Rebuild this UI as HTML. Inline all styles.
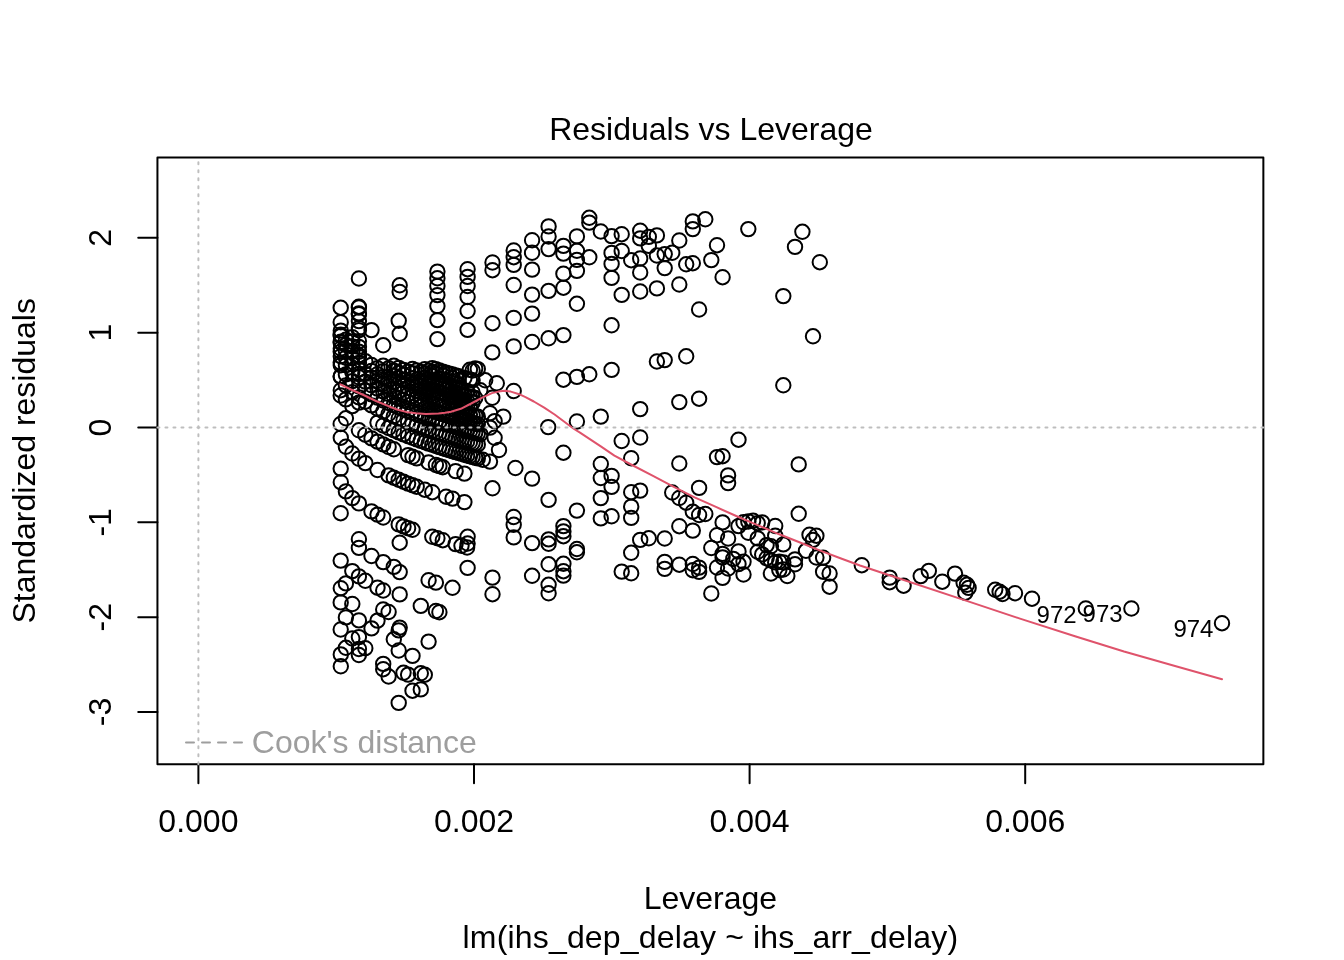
<!DOCTYPE html>
<html><head><meta charset="utf-8"><title>Residuals vs Leverage</title>
<style>
html,body{margin:0;padding:0;background:#fff;}
svg{display:block;}
text{font-family:"Liberation Sans",Arial,Helvetica,sans-serif;font-size:32px;fill:#000;}
</style></head><body>
<svg width="1344" height="960" viewBox="0 0 1344 960">
<rect width="1344" height="960" fill="#fff"/>

<g fill="none" stroke="#000" stroke-width="2">
<circle cx="340.7" cy="307.7" r="7.2"/><circle cx="340.7" cy="322.2" r="7.2"/><circle cx="340.7" cy="334.8" r="7.2"/><circle cx="340.7" cy="342.5" r="7.2"/><circle cx="340.7" cy="351.6" r="7.2"/><circle cx="340.7" cy="362.6" r="7.2"/><circle cx="340.7" cy="376.6" r="7.2"/><circle cx="340.7" cy="395.5" r="7.2"/>
<circle cx="340.7" cy="424.0" r="7.2"/><circle cx="340.7" cy="468.6" r="7.2"/><circle cx="340.7" cy="513.2" r="7.2"/><circle cx="340.7" cy="560.6" r="7.2"/><circle cx="340.7" cy="602.4" r="7.2"/><circle cx="340.7" cy="629.5" r="7.2"/><circle cx="340.8" cy="330.6" r="7.2"/><circle cx="340.8" cy="335.9" r="7.2"/>
<circle cx="340.8" cy="341.8" r="7.2"/><circle cx="340.8" cy="348.5" r="7.2"/><circle cx="340.8" cy="356.2" r="7.2"/><circle cx="340.8" cy="365.3" r="7.2"/><circle cx="340.8" cy="376.3" r="7.2"/><circle cx="340.8" cy="390.2" r="7.2"/><circle cx="340.8" cy="437.7" r="7.2"/><circle cx="340.8" cy="482.2" r="7.2"/>
<circle cx="340.8" cy="588.2" r="7.2"/><circle cx="340.8" cy="654.4" r="7.2"/><circle cx="340.8" cy="666.3" r="7.2"/><circle cx="345.9" cy="339.7" r="7.2"/><circle cx="345.9" cy="345.0" r="7.2"/><circle cx="345.9" cy="350.9" r="7.2"/><circle cx="345.9" cy="357.6" r="7.2"/><circle cx="345.9" cy="365.3" r="7.2"/>
<circle cx="345.9" cy="374.4" r="7.2"/><circle cx="345.9" cy="385.4" r="7.2"/><circle cx="345.9" cy="399.4" r="7.2"/><circle cx="345.9" cy="418.3" r="7.2"/><circle cx="345.9" cy="446.8" r="7.2"/><circle cx="345.9" cy="491.4" r="7.2"/><circle cx="345.9" cy="583.4" r="7.2"/><circle cx="345.9" cy="617.4" r="7.2"/>
<circle cx="345.9" cy="647.8" r="7.2"/><circle cx="352.3" cy="337.2" r="7.2"/><circle cx="352.3" cy="341.6" r="7.2"/><circle cx="352.3" cy="346.4" r="7.2"/><circle cx="352.3" cy="351.7" r="7.2"/><circle cx="352.3" cy="357.6" r="7.2"/><circle cx="352.3" cy="364.3" r="7.2"/><circle cx="352.3" cy="372.0" r="7.2"/>
<circle cx="352.3" cy="381.1" r="7.2"/><circle cx="352.3" cy="392.1" r="7.2"/><circle cx="352.3" cy="406.1" r="7.2"/><circle cx="352.3" cy="453.5" r="7.2"/><circle cx="352.3" cy="498.1" r="7.2"/><circle cx="352.3" cy="571.1" r="7.2"/><circle cx="352.3" cy="604.0" r="7.2"/><circle cx="352.3" cy="638.5" r="7.2"/>
<circle cx="358.9" cy="307.5" r="7.2"/><circle cx="358.9" cy="314.2" r="7.2"/><circle cx="358.9" cy="328.0" r="7.2"/><circle cx="358.9" cy="346.9" r="7.2"/><circle cx="358.9" cy="351.7" r="7.2"/><circle cx="358.9" cy="357.0" r="7.2"/><circle cx="358.9" cy="362.9" r="7.2"/><circle cx="358.9" cy="369.6" r="7.2"/>
<circle cx="358.9" cy="377.3" r="7.2"/><circle cx="358.9" cy="386.4" r="7.2"/><circle cx="358.9" cy="397.4" r="7.2"/><circle cx="358.9" cy="430.3" r="7.2"/><circle cx="358.9" cy="458.8" r="7.2"/><circle cx="358.9" cy="503.4" r="7.2"/><circle cx="358.9" cy="547.9" r="7.2"/><circle cx="358.9" cy="576.4" r="7.2"/>
<circle cx="358.9" cy="620.4" r="7.2"/><circle cx="358.9" cy="637.1" r="7.2"/><circle cx="358.9" cy="655.0" r="7.2"/><circle cx="358.9" cy="278.5" r="7.2"/><circle cx="358.9" cy="306.7" r="7.2"/><circle cx="358.9" cy="313.4" r="7.2"/><circle cx="358.9" cy="321.1" r="7.2"/><circle cx="358.9" cy="330.2" r="7.2"/>
<circle cx="358.9" cy="341.2" r="7.2"/><circle cx="358.9" cy="355.2" r="7.2"/><circle cx="358.9" cy="374.1" r="7.2"/><circle cx="358.9" cy="402.6" r="7.2"/><circle cx="358.9" cy="539.2" r="7.2"/><circle cx="358.9" cy="649.0" r="7.2"/><circle cx="365.3" cy="361.3" r="7.2"/><circle cx="365.3" cy="373.9" r="7.2"/>
<circle cx="365.3" cy="381.6" r="7.2"/><circle cx="365.3" cy="390.7" r="7.2"/><circle cx="365.3" cy="401.7" r="7.2"/><circle cx="365.3" cy="434.7" r="7.2"/><circle cx="365.3" cy="463.1" r="7.2"/><circle cx="365.3" cy="580.8" r="7.2"/><circle cx="365.3" cy="648.2" r="7.2"/><circle cx="371.5" cy="330.1" r="7.2"/>
<circle cx="371.5" cy="365.0" r="7.2"/><circle cx="371.5" cy="370.9" r="7.2"/><circle cx="371.5" cy="377.6" r="7.2"/><circle cx="371.5" cy="385.3" r="7.2"/><circle cx="371.5" cy="394.4" r="7.2"/><circle cx="371.5" cy="405.4" r="7.2"/><circle cx="371.5" cy="438.4" r="7.2"/><circle cx="371.5" cy="511.4" r="7.2"/>
<circle cx="371.5" cy="556.0" r="7.2"/><circle cx="371.5" cy="628.4" r="7.2"/><circle cx="377.5" cy="368.2" r="7.2"/><circle cx="377.5" cy="374.2" r="7.2"/><circle cx="377.5" cy="380.9" r="7.2"/><circle cx="377.5" cy="388.6" r="7.2"/><circle cx="377.5" cy="397.6" r="7.2"/><circle cx="377.5" cy="408.7" r="7.2"/>
<circle cx="377.5" cy="422.6" r="7.2"/><circle cx="377.5" cy="441.6" r="7.2"/><circle cx="377.5" cy="470.0" r="7.2"/><circle cx="377.5" cy="514.6" r="7.2"/><circle cx="377.5" cy="587.7" r="7.2"/><circle cx="377.5" cy="620.6" r="7.2"/><circle cx="383.2" cy="345.3" r="7.2"/><circle cx="383.2" cy="365.8" r="7.2"/>
<circle cx="383.2" cy="371.1" r="7.2"/><circle cx="383.2" cy="377.0" r="7.2"/><circle cx="383.2" cy="383.7" r="7.2"/><circle cx="383.2" cy="391.4" r="7.2"/><circle cx="383.2" cy="400.5" r="7.2"/><circle cx="383.2" cy="411.5" r="7.2"/><circle cx="383.2" cy="425.5" r="7.2"/><circle cx="383.2" cy="444.4" r="7.2"/>
<circle cx="383.2" cy="517.5" r="7.2"/><circle cx="383.2" cy="562.1" r="7.2"/><circle cx="383.2" cy="590.5" r="7.2"/><circle cx="383.2" cy="609.5" r="7.2"/><circle cx="383.2" cy="663.9" r="7.2"/><circle cx="383.2" cy="669.2" r="7.2"/><circle cx="388.6" cy="368.3" r="7.2"/><circle cx="388.6" cy="379.5" r="7.2"/>
<circle cx="388.6" cy="386.2" r="7.2"/><circle cx="388.6" cy="394.0" r="7.2"/><circle cx="388.6" cy="403.0" r="7.2"/><circle cx="388.6" cy="414.0" r="7.2"/><circle cx="388.6" cy="428.0" r="7.2"/><circle cx="388.6" cy="447.0" r="7.2"/><circle cx="388.6" cy="475.4" r="7.2"/><circle cx="388.6" cy="612.0" r="7.2"/>
<circle cx="388.6" cy="676.5" r="7.2"/><circle cx="393.8" cy="365.8" r="7.2"/><circle cx="393.8" cy="370.6" r="7.2"/><circle cx="393.8" cy="375.9" r="7.2"/><circle cx="393.8" cy="381.9" r="7.2"/><circle cx="393.8" cy="388.6" r="7.2"/><circle cx="393.8" cy="396.3" r="7.2"/><circle cx="393.8" cy="405.3" r="7.2"/>
<circle cx="393.8" cy="416.3" r="7.2"/><circle cx="393.8" cy="430.3" r="7.2"/><circle cx="393.8" cy="449.3" r="7.2"/><circle cx="393.8" cy="477.7" r="7.2"/><circle cx="393.8" cy="566.9" r="7.2"/><circle cx="393.8" cy="639.3" r="7.2"/><circle cx="398.7" cy="320.8" r="7.2"/><circle cx="398.7" cy="367.9" r="7.2"/>
<circle cx="398.7" cy="372.7" r="7.2"/><circle cx="398.7" cy="378.0" r="7.2"/><circle cx="398.7" cy="384.0" r="7.2"/><circle cx="398.7" cy="390.7" r="7.2"/><circle cx="398.7" cy="398.4" r="7.2"/><circle cx="398.7" cy="407.4" r="7.2"/><circle cx="398.7" cy="418.5" r="7.2"/><circle cx="398.7" cy="432.4" r="7.2"/>
<circle cx="398.7" cy="479.8" r="7.2"/><circle cx="398.7" cy="524.4" r="7.2"/><circle cx="398.7" cy="630.4" r="7.2"/><circle cx="398.7" cy="650.5" r="7.2"/><circle cx="398.7" cy="702.9" r="7.2"/><circle cx="399.7" cy="285.3" r="7.2"/><circle cx="399.7" cy="292.0" r="7.2"/><circle cx="399.7" cy="333.8" r="7.2"/>
<circle cx="399.7" cy="542.7" r="7.2"/><circle cx="399.7" cy="572.1" r="7.2"/><circle cx="399.7" cy="594.4" r="7.2"/><circle cx="399.7" cy="627.6" r="7.2"/><circle cx="403.5" cy="369.9" r="7.2"/><circle cx="403.5" cy="374.7" r="7.2"/><circle cx="403.5" cy="380.0" r="7.2"/><circle cx="403.5" cy="385.9" r="7.2"/>
<circle cx="403.5" cy="392.6" r="7.2"/><circle cx="403.5" cy="400.3" r="7.2"/><circle cx="403.5" cy="409.4" r="7.2"/><circle cx="403.5" cy="420.4" r="7.2"/><circle cx="403.5" cy="434.4" r="7.2"/><circle cx="403.5" cy="481.8" r="7.2"/><circle cx="403.5" cy="526.4" r="7.2"/><circle cx="403.5" cy="672.8" r="7.2"/>
<circle cx="408.1" cy="371.7" r="7.2"/><circle cx="408.1" cy="381.8" r="7.2"/><circle cx="408.1" cy="387.7" r="7.2"/><circle cx="408.1" cy="394.4" r="7.2"/><circle cx="408.1" cy="402.1" r="7.2"/><circle cx="408.1" cy="411.2" r="7.2"/><circle cx="408.1" cy="422.2" r="7.2"/><circle cx="408.1" cy="436.2" r="7.2"/>
<circle cx="408.1" cy="455.1" r="7.2"/><circle cx="408.1" cy="483.6" r="7.2"/><circle cx="408.1" cy="528.2" r="7.2"/><circle cx="408.1" cy="674.6" r="7.2"/><circle cx="412.5" cy="369.0" r="7.2"/><circle cx="412.5" cy="373.3" r="7.2"/><circle cx="412.5" cy="378.1" r="7.2"/><circle cx="412.5" cy="383.5" r="7.2"/>
<circle cx="412.5" cy="389.4" r="7.2"/><circle cx="412.5" cy="396.1" r="7.2"/><circle cx="412.5" cy="412.8" r="7.2"/><circle cx="412.5" cy="423.9" r="7.2"/><circle cx="412.5" cy="437.8" r="7.2"/><circle cx="412.5" cy="456.8" r="7.2"/><circle cx="412.5" cy="485.2" r="7.2"/><circle cx="412.5" cy="529.8" r="7.2"/>
<circle cx="412.5" cy="655.9" r="7.2"/><circle cx="412.5" cy="690.7" r="7.2"/><circle cx="416.7" cy="370.5" r="7.2"/><circle cx="416.7" cy="379.7" r="7.2"/><circle cx="416.7" cy="385.0" r="7.2"/><circle cx="416.7" cy="390.9" r="7.2"/><circle cx="416.7" cy="397.6" r="7.2"/><circle cx="416.7" cy="405.3" r="7.2"/>
<circle cx="416.7" cy="414.4" r="7.2"/><circle cx="416.7" cy="425.4" r="7.2"/><circle cx="416.7" cy="439.4" r="7.2"/><circle cx="416.7" cy="458.4" r="7.2"/><circle cx="416.7" cy="486.8" r="7.2"/><circle cx="420.8" cy="372.0" r="7.2"/><circle cx="420.8" cy="381.2" r="7.2"/><circle cx="420.8" cy="386.5" r="7.2"/>
<circle cx="420.8" cy="392.4" r="7.2"/><circle cx="420.8" cy="399.1" r="7.2"/><circle cx="420.8" cy="406.8" r="7.2"/><circle cx="420.8" cy="415.9" r="7.2"/><circle cx="420.8" cy="426.9" r="7.2"/><circle cx="420.8" cy="440.9" r="7.2"/><circle cx="420.8" cy="605.9" r="7.2"/><circle cx="420.8" cy="673.3" r="7.2"/>
<circle cx="420.8" cy="689.4" r="7.2"/><circle cx="424.8" cy="369.3" r="7.2"/><circle cx="424.8" cy="373.4" r="7.2"/><circle cx="424.8" cy="377.8" r="7.2"/><circle cx="424.8" cy="382.6" r="7.2"/><circle cx="424.8" cy="387.9" r="7.2"/><circle cx="424.8" cy="393.8" r="7.2"/><circle cx="424.8" cy="400.5" r="7.2"/>
<circle cx="424.8" cy="408.2" r="7.2"/><circle cx="424.8" cy="417.3" r="7.2"/><circle cx="424.8" cy="428.3" r="7.2"/><circle cx="424.8" cy="442.3" r="7.2"/><circle cx="424.8" cy="489.7" r="7.2"/><circle cx="424.8" cy="674.7" r="7.2"/><circle cx="428.6" cy="370.7" r="7.2"/><circle cx="428.6" cy="379.1" r="7.2"/>
<circle cx="428.6" cy="383.9" r="7.2"/><circle cx="428.6" cy="389.2" r="7.2"/><circle cx="428.6" cy="395.1" r="7.2"/><circle cx="428.6" cy="401.8" r="7.2"/><circle cx="428.6" cy="409.5" r="7.2"/><circle cx="428.6" cy="418.6" r="7.2"/><circle cx="428.6" cy="429.6" r="7.2"/><circle cx="428.6" cy="443.6" r="7.2"/>
<circle cx="428.6" cy="462.5" r="7.2"/><circle cx="428.6" cy="580.2" r="7.2"/><circle cx="428.6" cy="641.6" r="7.2"/><circle cx="432.3" cy="368.2" r="7.2"/><circle cx="432.3" cy="371.9" r="7.2"/><circle cx="432.3" cy="375.9" r="7.2"/><circle cx="432.3" cy="380.3" r="7.2"/><circle cx="432.3" cy="385.1" r="7.2"/>
<circle cx="432.3" cy="390.4" r="7.2"/><circle cx="432.3" cy="396.3" r="7.2"/><circle cx="432.3" cy="403.0" r="7.2"/><circle cx="432.3" cy="410.8" r="7.2"/><circle cx="432.3" cy="419.8" r="7.2"/><circle cx="432.3" cy="430.8" r="7.2"/><circle cx="432.3" cy="444.8" r="7.2"/><circle cx="432.3" cy="492.2" r="7.2"/>
<circle cx="432.3" cy="536.8" r="7.2"/><circle cx="435.9" cy="369.3" r="7.2"/><circle cx="435.9" cy="373.1" r="7.2"/><circle cx="435.9" cy="381.5" r="7.2"/><circle cx="435.9" cy="386.3" r="7.2"/><circle cx="435.9" cy="397.5" r="7.2"/><circle cx="435.9" cy="404.2" r="7.2"/><circle cx="435.9" cy="411.9" r="7.2"/>
<circle cx="435.9" cy="421.0" r="7.2"/><circle cx="435.9" cy="432.0" r="7.2"/><circle cx="435.9" cy="446.0" r="7.2"/><circle cx="435.9" cy="465.0" r="7.2"/><circle cx="435.9" cy="582.6" r="7.2"/><circle cx="435.9" cy="611.0" r="7.2"/><circle cx="437.4" cy="271.6" r="7.2"/><circle cx="437.4" cy="278.3" r="7.2"/>
<circle cx="437.4" cy="286.0" r="7.2"/><circle cx="437.4" cy="295.1" r="7.2"/><circle cx="437.4" cy="306.1" r="7.2"/><circle cx="437.4" cy="320.1" r="7.2"/><circle cx="437.4" cy="339.1" r="7.2"/><circle cx="437.4" cy="538.2" r="7.2"/><circle cx="439.4" cy="370.5" r="7.2"/><circle cx="439.4" cy="378.3" r="7.2"/>
<circle cx="439.4" cy="382.6" r="7.2"/><circle cx="439.4" cy="392.7" r="7.2"/><circle cx="439.4" cy="398.7" r="7.2"/><circle cx="439.4" cy="405.4" r="7.2"/><circle cx="439.4" cy="413.1" r="7.2"/><circle cx="439.4" cy="422.1" r="7.2"/><circle cx="439.4" cy="433.2" r="7.2"/><circle cx="439.4" cy="447.1" r="7.2"/>
<circle cx="439.4" cy="466.1" r="7.2"/><circle cx="439.4" cy="612.2" r="7.2"/><circle cx="442.8" cy="371.6" r="7.2"/><circle cx="442.8" cy="375.3" r="7.2"/><circle cx="442.8" cy="379.3" r="7.2"/><circle cx="442.8" cy="383.7" r="7.2"/><circle cx="442.8" cy="388.5" r="7.2"/><circle cx="442.8" cy="393.8" r="7.2"/>
<circle cx="442.8" cy="399.7" r="7.2"/><circle cx="442.8" cy="406.4" r="7.2"/><circle cx="442.8" cy="414.1" r="7.2"/><circle cx="442.8" cy="423.2" r="7.2"/><circle cx="442.8" cy="434.2" r="7.2"/><circle cx="442.8" cy="448.2" r="7.2"/><circle cx="442.8" cy="467.2" r="7.2"/><circle cx="442.8" cy="540.2" r="7.2"/>
<circle cx="446.1" cy="372.6" r="7.2"/><circle cx="446.1" cy="380.4" r="7.2"/><circle cx="446.1" cy="384.8" r="7.2"/><circle cx="446.1" cy="389.6" r="7.2"/><circle cx="446.1" cy="394.9" r="7.2"/><circle cx="446.1" cy="400.8" r="7.2"/><circle cx="446.1" cy="415.2" r="7.2"/><circle cx="446.1" cy="424.2" r="7.2"/>
<circle cx="446.1" cy="435.3" r="7.2"/><circle cx="446.1" cy="449.2" r="7.2"/><circle cx="446.1" cy="496.7" r="7.2"/><circle cx="449.4" cy="373.6" r="7.2"/><circle cx="449.4" cy="385.7" r="7.2"/><circle cx="449.4" cy="395.8" r="7.2"/><circle cx="449.4" cy="401.8" r="7.2"/><circle cx="449.4" cy="408.5" r="7.2"/>
<circle cx="449.4" cy="416.2" r="7.2"/><circle cx="449.4" cy="425.2" r="7.2"/><circle cx="449.4" cy="436.3" r="7.2"/><circle cx="449.4" cy="450.2" r="7.2"/><circle cx="452.5" cy="374.5" r="7.2"/><circle cx="452.5" cy="378.3" r="7.2"/><circle cx="452.5" cy="386.7" r="7.2"/><circle cx="452.5" cy="396.8" r="7.2"/>
<circle cx="452.5" cy="402.7" r="7.2"/><circle cx="452.5" cy="409.4" r="7.2"/><circle cx="452.5" cy="417.1" r="7.2"/><circle cx="452.5" cy="426.2" r="7.2"/><circle cx="452.5" cy="437.2" r="7.2"/><circle cx="452.5" cy="451.2" r="7.2"/><circle cx="452.5" cy="498.6" r="7.2"/><circle cx="452.5" cy="587.8" r="7.2"/>
<circle cx="455.6" cy="375.5" r="7.2"/><circle cx="455.6" cy="383.2" r="7.2"/><circle cx="455.6" cy="387.6" r="7.2"/><circle cx="455.6" cy="392.4" r="7.2"/><circle cx="455.6" cy="397.7" r="7.2"/><circle cx="455.6" cy="403.6" r="7.2"/><circle cx="455.6" cy="410.3" r="7.2"/><circle cx="455.6" cy="427.1" r="7.2"/>
<circle cx="455.6" cy="438.1" r="7.2"/><circle cx="455.6" cy="452.1" r="7.2"/><circle cx="455.6" cy="471.1" r="7.2"/><circle cx="455.6" cy="544.1" r="7.2"/><circle cx="458.6" cy="376.3" r="7.2"/><circle cx="458.6" cy="380.1" r="7.2"/><circle cx="458.6" cy="384.1" r="7.2"/><circle cx="458.6" cy="388.5" r="7.2"/>
<circle cx="458.6" cy="393.3" r="7.2"/><circle cx="458.6" cy="404.5" r="7.2"/><circle cx="458.6" cy="411.2" r="7.2"/><circle cx="458.6" cy="428.0" r="7.2"/><circle cx="458.6" cy="439.0" r="7.2"/><circle cx="458.6" cy="453.0" r="7.2"/><circle cx="461.5" cy="389.3" r="7.2"/><circle cx="461.5" cy="394.1" r="7.2"/>
<circle cx="461.5" cy="399.4" r="7.2"/><circle cx="461.5" cy="405.4" r="7.2"/><circle cx="461.5" cy="412.1" r="7.2"/><circle cx="461.5" cy="419.8" r="7.2"/><circle cx="461.5" cy="428.8" r="7.2"/><circle cx="461.5" cy="439.9" r="7.2"/><circle cx="461.5" cy="453.8" r="7.2"/><circle cx="461.5" cy="545.8" r="7.2"/>
<circle cx="464.4" cy="378.0" r="7.2"/><circle cx="464.4" cy="395.0" r="7.2"/><circle cx="464.4" cy="400.3" r="7.2"/><circle cx="464.4" cy="406.2" r="7.2"/><circle cx="464.4" cy="412.9" r="7.2"/><circle cx="464.4" cy="420.6" r="7.2"/><circle cx="464.4" cy="429.7" r="7.2"/><circle cx="464.4" cy="440.7" r="7.2"/>
<circle cx="464.4" cy="454.7" r="7.2"/><circle cx="464.4" cy="473.6" r="7.2"/><circle cx="464.4" cy="502.1" r="7.2"/><circle cx="467.1" cy="391.0" r="7.2"/><circle cx="467.1" cy="401.1" r="7.2"/><circle cx="467.1" cy="407.0" r="7.2"/><circle cx="467.1" cy="413.7" r="7.2"/><circle cx="467.1" cy="421.4" r="7.2"/>
<circle cx="467.1" cy="430.5" r="7.2"/><circle cx="467.1" cy="441.5" r="7.2"/><circle cx="467.1" cy="455.5" r="7.2"/><circle cx="467.1" cy="547.5" r="7.2"/><circle cx="467.6" cy="269.2" r="7.2"/><circle cx="467.6" cy="276.9" r="7.2"/><circle cx="467.6" cy="286.0" r="7.2"/><circle cx="467.6" cy="297.0" r="7.2"/>
<circle cx="467.6" cy="311.0" r="7.2"/><circle cx="467.6" cy="329.9" r="7.2"/><circle cx="467.6" cy="536.8" r="7.2"/><circle cx="467.6" cy="543.5" r="7.2"/><circle cx="467.6" cy="567.9" r="7.2"/><circle cx="469.9" cy="369.8" r="7.2"/><circle cx="469.9" cy="379.6" r="7.2"/><circle cx="469.9" cy="396.5" r="7.2"/>
<circle cx="469.9" cy="407.8" r="7.2"/><circle cx="469.9" cy="414.5" r="7.2"/><circle cx="469.9" cy="422.2" r="7.2"/><circle cx="469.9" cy="431.2" r="7.2"/><circle cx="469.9" cy="442.3" r="7.2"/><circle cx="469.9" cy="456.2" r="7.2"/><circle cx="472.6" cy="370.5" r="7.2"/><circle cx="472.6" cy="380.3" r="7.2"/>
<circle cx="472.6" cy="392.5" r="7.2"/><circle cx="472.6" cy="397.3" r="7.2"/><circle cx="472.6" cy="402.6" r="7.2"/><circle cx="472.6" cy="415.2" r="7.2"/><circle cx="472.6" cy="422.9" r="7.2"/><circle cx="472.6" cy="432.0" r="7.2"/><circle cx="472.6" cy="443.0" r="7.2"/><circle cx="472.6" cy="457.0" r="7.2"/>
<circle cx="475.2" cy="368.4" r="7.2"/><circle cx="475.2" cy="398.0" r="7.2"/><circle cx="475.2" cy="415.9" r="7.2"/><circle cx="475.2" cy="423.6" r="7.2"/><circle cx="475.2" cy="432.7" r="7.2"/><circle cx="475.2" cy="443.7" r="7.2"/><circle cx="475.2" cy="457.7" r="7.2"/><circle cx="477.8" cy="369.1" r="7.2"/>
<circle cx="477.8" cy="416.6" r="7.2"/><circle cx="477.8" cy="424.3" r="7.2"/><circle cx="477.8" cy="433.4" r="7.2"/><circle cx="477.8" cy="444.4" r="7.2"/><circle cx="477.8" cy="458.4" r="7.2"/><circle cx="480.3" cy="390.2" r="7.2"/><circle cx="480.3" cy="434.1" r="7.2"/><circle cx="482.8" cy="459.8" r="7.2"/>
<circle cx="485.2" cy="380.3" r="7.2"/><circle cx="490.0" cy="413.2" r="7.2"/><circle cx="490.0" cy="427.6" r="7.2"/><circle cx="490.0" cy="461.6" r="7.2"/><circle cx="492.3" cy="352.4" r="7.2"/><circle cx="492.3" cy="397.8" r="7.2"/><circle cx="492.5" cy="262.5" r="7.2"/><circle cx="492.5" cy="270.2" r="7.2"/>
<circle cx="492.5" cy="323.2" r="7.2"/><circle cx="492.5" cy="488.3" r="7.2"/><circle cx="492.5" cy="577.6" r="7.2"/><circle cx="492.5" cy="594.2" r="7.2"/><circle cx="494.6" cy="421.1" r="7.2"/><circle cx="494.6" cy="437.8" r="7.2"/><circle cx="496.8" cy="383.3" r="7.2"/><circle cx="499.0" cy="450.0" r="7.2"/>
<circle cx="503.3" cy="416.6" r="7.2"/><circle cx="513.7" cy="250.5" r="7.2"/><circle cx="513.7" cy="257.2" r="7.2"/><circle cx="513.7" cy="264.9" r="7.2"/><circle cx="513.7" cy="285.0" r="7.2"/><circle cx="513.7" cy="317.9" r="7.2"/><circle cx="513.7" cy="346.4" r="7.2"/><circle cx="513.7" cy="391.0" r="7.2"/>
<circle cx="513.7" cy="517.0" r="7.2"/><circle cx="513.7" cy="524.8" r="7.2"/><circle cx="513.7" cy="537.4" r="7.2"/><circle cx="515.4" cy="468.0" r="7.2"/><circle cx="532.1" cy="240.2" r="7.2"/><circle cx="532.1" cy="252.8" r="7.2"/><circle cx="532.1" cy="269.6" r="7.2"/><circle cx="532.1" cy="294.6" r="7.2"/>
<circle cx="532.1" cy="313.6" r="7.2"/><circle cx="532.1" cy="342.0" r="7.2"/><circle cx="532.1" cy="478.6" r="7.2"/><circle cx="532.1" cy="543.1" r="7.2"/><circle cx="532.1" cy="575.8" r="7.2"/><circle cx="548.2" cy="427.1" r="7.2"/><circle cx="548.6" cy="226.4" r="7.2"/><circle cx="548.6" cy="236.5" r="7.2"/>
<circle cx="548.6" cy="249.1" r="7.2"/><circle cx="548.6" cy="290.9" r="7.2"/><circle cx="548.6" cy="338.3" r="7.2"/><circle cx="548.6" cy="499.9" r="7.2"/><circle cx="548.6" cy="539.4" r="7.2"/><circle cx="548.6" cy="543.8" r="7.2"/><circle cx="548.6" cy="564.3" r="7.2"/><circle cx="548.6" cy="584.8" r="7.2"/>
<circle cx="548.6" cy="593.3" r="7.2"/><circle cx="563.4" cy="245.9" r="7.2"/><circle cx="563.4" cy="253.6" r="7.2"/><circle cx="563.4" cy="273.7" r="7.2"/><circle cx="563.4" cy="287.7" r="7.2"/><circle cx="563.4" cy="335.1" r="7.2"/><circle cx="563.4" cy="379.7" r="7.2"/><circle cx="563.4" cy="452.7" r="7.2"/>
<circle cx="563.4" cy="526.1" r="7.2"/><circle cx="563.4" cy="531.4" r="7.2"/><circle cx="563.4" cy="536.2" r="7.2"/><circle cx="563.4" cy="563.8" r="7.2"/><circle cx="563.4" cy="571.2" r="7.2"/><circle cx="563.4" cy="575.6" r="7.2"/><circle cx="576.9" cy="236.4" r="7.2"/><circle cx="576.9" cy="250.8" r="7.2"/>
<circle cx="576.9" cy="259.9" r="7.2"/><circle cx="576.9" cy="270.9" r="7.2"/><circle cx="576.9" cy="303.8" r="7.2"/><circle cx="576.9" cy="376.9" r="7.2"/><circle cx="576.9" cy="421.5" r="7.2"/><circle cx="576.9" cy="510.6" r="7.2"/><circle cx="576.9" cy="549.0" r="7.2"/><circle cx="576.9" cy="552.3" r="7.2"/>
<circle cx="589.3" cy="217.8" r="7.2"/><circle cx="589.3" cy="222.6" r="7.2"/><circle cx="589.3" cy="257.3" r="7.2"/><circle cx="589.3" cy="374.3" r="7.2"/><circle cx="600.8" cy="231.5" r="7.2"/><circle cx="600.8" cy="416.6" r="7.2"/><circle cx="600.8" cy="464.0" r="7.2"/><circle cx="600.8" cy="478.0" r="7.2"/>
<circle cx="600.8" cy="498.1" r="7.2"/><circle cx="600.8" cy="518.4" r="7.2"/><circle cx="611.6" cy="236.1" r="7.2"/><circle cx="611.6" cy="252.9" r="7.2"/><circle cx="611.6" cy="263.9" r="7.2"/><circle cx="611.6" cy="277.9" r="7.2"/><circle cx="611.6" cy="325.3" r="7.2"/><circle cx="611.6" cy="369.9" r="7.2"/>
<circle cx="611.6" cy="475.9" r="7.2"/><circle cx="611.6" cy="486.9" r="7.2"/><circle cx="611.6" cy="516.3" r="7.2"/><circle cx="621.7" cy="234.2" r="7.2"/><circle cx="621.7" cy="251.0" r="7.2"/><circle cx="621.7" cy="294.9" r="7.2"/><circle cx="621.7" cy="441.0" r="7.2"/><circle cx="621.7" cy="571.6" r="7.2"/>
<circle cx="631.2" cy="260.2" r="7.2"/><circle cx="631.2" cy="458.2" r="7.2"/><circle cx="631.2" cy="492.2" r="7.2"/><circle cx="631.2" cy="506.6" r="7.2"/><circle cx="631.2" cy="517.9" r="7.2"/><circle cx="631.2" cy="552.8" r="7.2"/><circle cx="631.2" cy="573.3" r="7.2"/><circle cx="640.2" cy="230.7" r="7.2"/>
<circle cx="640.2" cy="238.4" r="7.2"/><circle cx="640.2" cy="258.5" r="7.2"/><circle cx="640.2" cy="272.5" r="7.2"/><circle cx="640.2" cy="291.5" r="7.2"/><circle cx="640.2" cy="409.1" r="7.2"/><circle cx="640.2" cy="437.5" r="7.2"/><circle cx="640.2" cy="490.6" r="7.2"/><circle cx="640.2" cy="539.9" r="7.2"/>
<circle cx="648.8" cy="236.9" r="7.2"/><circle cx="648.8" cy="245.9" r="7.2"/><circle cx="648.8" cy="538.3" r="7.2"/><circle cx="656.9" cy="235.4" r="7.2"/><circle cx="656.9" cy="255.5" r="7.2"/><circle cx="656.9" cy="288.4" r="7.2"/><circle cx="656.9" cy="361.5" r="7.2"/><circle cx="664.7" cy="254.1" r="7.2"/>
<circle cx="664.7" cy="268.1" r="7.2"/><circle cx="664.7" cy="360.1" r="7.2"/><circle cx="664.7" cy="538.5" r="7.2"/><circle cx="664.7" cy="561.9" r="7.2"/><circle cx="664.7" cy="568.9" r="7.2"/><circle cx="672.2" cy="252.8" r="7.2"/><circle cx="672.2" cy="492.5" r="7.2"/><circle cx="679.3" cy="240.5" r="7.2"/>
<circle cx="679.3" cy="284.5" r="7.2"/><circle cx="679.3" cy="402.1" r="7.2"/><circle cx="679.3" cy="463.5" r="7.2"/><circle cx="679.3" cy="498.0" r="7.2"/><circle cx="679.3" cy="526.2" r="7.2"/><circle cx="679.3" cy="564.7" r="7.2"/><circle cx="686.2" cy="264.3" r="7.2"/><circle cx="686.2" cy="356.3" r="7.2"/>
<circle cx="686.2" cy="502.7" r="7.2"/><circle cx="692.8" cy="221.4" r="7.2"/><circle cx="692.8" cy="229.1" r="7.2"/><circle cx="692.8" cy="263.2" r="7.2"/><circle cx="692.8" cy="511.7" r="7.2"/><circle cx="692.8" cy="530.6" r="7.2"/><circle cx="692.8" cy="564.0" r="7.2"/><circle cx="692.8" cy="570.2" r="7.2"/>
<circle cx="699.1" cy="309.5" r="7.2"/><circle cx="699.1" cy="398.7" r="7.2"/><circle cx="699.1" cy="487.9" r="7.2"/><circle cx="699.1" cy="515.0" r="7.2"/><circle cx="699.1" cy="567.6" r="7.2"/><circle cx="699.1" cy="571.9" r="7.2"/><circle cx="705.3" cy="219.3" r="7.2"/><circle cx="705.3" cy="514.0" r="7.2"/>
<circle cx="711.3" cy="260.1" r="7.2"/><circle cx="711.3" cy="548.0" r="7.2"/><circle cx="711.3" cy="593.5" r="7.2"/><circle cx="717.0" cy="245.2" r="7.2"/><circle cx="717.0" cy="457.1" r="7.2"/><circle cx="717.0" cy="535.2" r="7.2"/><circle cx="717.0" cy="567.5" r="7.2"/><circle cx="722.6" cy="277.2" r="7.2"/>
<circle cx="722.6" cy="456.2" r="7.2"/><circle cx="722.6" cy="522.4" r="7.2"/><circle cx="722.6" cy="553.9" r="7.2"/><circle cx="722.6" cy="557.4" r="7.2"/><circle cx="722.6" cy="577.9" r="7.2"/><circle cx="728.1" cy="475.4" r="7.2"/><circle cx="728.1" cy="483.1" r="7.2"/><circle cx="728.1" cy="538.5" r="7.2"/>
<circle cx="728.1" cy="568.5" r="7.2"/><circle cx="733.3" cy="558.9" r="7.2"/><circle cx="738.5" cy="439.7" r="7.2"/><circle cx="738.5" cy="526.1" r="7.2"/><circle cx="738.5" cy="551.4" r="7.2"/><circle cx="738.5" cy="564.1" r="7.2"/><circle cx="743.5" cy="522.3" r="7.2"/><circle cx="743.5" cy="561.8" r="7.2"/>
<circle cx="743.5" cy="574.5" r="7.2"/><circle cx="748.3" cy="229.1" r="7.2"/><circle cx="748.3" cy="521.5" r="7.2"/><circle cx="748.3" cy="532.8" r="7.2"/><circle cx="753.1" cy="520.8" r="7.2"/><circle cx="757.7" cy="523.1" r="7.2"/><circle cx="757.7" cy="538.4" r="7.2"/><circle cx="757.7" cy="551.8" r="7.2"/>
<circle cx="762.2" cy="522.4" r="7.2"/><circle cx="762.2" cy="554.4" r="7.2"/><circle cx="766.6" cy="545.1" r="7.2"/><circle cx="766.6" cy="558.2" r="7.2"/><circle cx="770.9" cy="546.3" r="7.2"/><circle cx="770.9" cy="560.4" r="7.2"/><circle cx="770.9" cy="573.5" r="7.2"/><circle cx="775.2" cy="526.0" r="7.2"/>
<circle cx="775.2" cy="535.7" r="7.2"/><circle cx="775.2" cy="562.4" r="7.2"/><circle cx="779.3" cy="561.7" r="7.2"/><circle cx="779.3" cy="570.1" r="7.2"/><circle cx="783.3" cy="296.1" r="7.2"/><circle cx="783.3" cy="385.3" r="7.2"/><circle cx="783.3" cy="544.4" r="7.2"/><circle cx="783.3" cy="562.4" r="7.2"/>
<circle cx="783.3" cy="569.5" r="7.2"/><circle cx="787.3" cy="576.0" r="7.2"/><circle cx="795.0" cy="246.9" r="7.2"/><circle cx="795.0" cy="559.4" r="7.2"/><circle cx="795.0" cy="564.3" r="7.2"/><circle cx="798.7" cy="464.4" r="7.2"/><circle cx="798.7" cy="513.8" r="7.2"/><circle cx="802.4" cy="231.8" r="7.2"/>
<circle cx="806.0" cy="550.8" r="7.2"/><circle cx="809.5" cy="534.7" r="7.2"/><circle cx="813.0" cy="336.3" r="7.2"/><circle cx="813.0" cy="539.9" r="7.2"/><circle cx="816.4" cy="535.7" r="7.2"/><circle cx="816.4" cy="557.5" r="7.2"/><circle cx="819.8" cy="262.2" r="7.2"/><circle cx="823.1" cy="557.7" r="7.2"/>
<circle cx="823.1" cy="571.7" r="7.2"/><circle cx="829.6" cy="573.5" r="7.2"/><circle cx="829.6" cy="586.7" r="7.2"/><circle cx="861.8" cy="565.2" r="7.2"/><circle cx="889.7" cy="577.6" r="7.2"/><circle cx="889.7" cy="582.2" r="7.2"/><circle cx="903.6" cy="585.7" r="7.2"/><circle cx="920.7" cy="576.1" r="7.2"/>
<circle cx="928.8" cy="570.9" r="7.2"/><circle cx="942.3" cy="581.7" r="7.2"/><circle cx="955.0" cy="573.6" r="7.2"/><circle cx="963.6" cy="582.7" r="7.2"/><circle cx="965.3" cy="592.7" r="7.2"/><circle cx="967.0" cy="584.8" r="7.2"/><circle cx="968.6" cy="587.9" r="7.2"/><circle cx="995.2" cy="589.8" r="7.2"/>
<circle cx="999.6" cy="591.7" r="7.2"/><circle cx="1002.5" cy="594.0" r="7.2"/><circle cx="1015.0" cy="593.2" r="7.2"/><circle cx="1032.0" cy="598.7" r="7.2"/><circle cx="1085.8" cy="608.5" r="7.2"/><circle cx="1131.4" cy="608.5" r="7.2"/><circle cx="1222.0" cy="623.2" r="7.2"/>
</g>
<path d="M340.4 384.4 L351.0 389.5 L363.5 395.0 L376.0 401.0 L388.5 406.2 L397.0 409.5 L406.0 411.9 L416.0 413.2 L426.0 413.9 L438.5 413.6 L445.0 412.8 L451.0 411.7 L460.8 408.8 L471.2 403.5 L481.7 397.8 L492.0 393.1 L498.3 391.6 L504.6 390.7 L510.8 391.6 L519.2 394.2 L526.0 397.3 L533.8 401.5 L544.2 407.7 L554.6 414.5 L565.0 422.3 L573.3 428.5 L580.0 432.7 L600.8 446.4 L614.4 455.6 L632.0 465.0 L653.0 475.8 L673.8 486.9 L694.6 497.3 L715.4 506.7 L736.2 516.0 L757.0 524.8 L778.0 533.8 L798.8 542.0 L819.6 550.4 L840.4 558.3 L860.0 565.5 L900.0 578.7 L966.7 600.9 L1020.0 618.6 L1075.0 636.3 L1124.0 651.5 L1175.0 666.0 L1222.0 679.2" fill="none" stroke="#df536b" stroke-width="2" stroke-linejoin="round" stroke-linecap="round"/>
<g fill="none" stroke="#000" stroke-width="2" stroke-linecap="round" stroke-linejoin="round">
<rect x="157.44" y="157.44" width="1105.92" height="606.72"/>
<path d="M198.40 764.16v19.2M474.00 764.16v19.2M749.60 764.16v19.2M1025.20 764.16v19.2M157.44 712.05h-19.2M157.44 617.20h-19.2M157.44 522.35h-19.2M157.44 427.50h-19.2M157.44 332.65h-19.2M157.44 237.80h-19.2"/>
</g>
<g fill="none" stroke="#bebebe" stroke-width="2" stroke-linecap="round" stroke-dasharray="2 6">
<path d="M157.44 427.50H1263.36"/>
<path d="M198.40 764.16V157.44"/>
</g>
<g text-anchor="middle">
<text x="711" y="140">Residuals vs Leverage</text>
<text x="198.4" y="832">0.000</text>
<text x="474.0" y="832">0.002</text>
<text x="749.6" y="832">0.004</text>
<text x="1025.2" y="832">0.006</text>
<text transform="translate(111 712.0) rotate(-90)">-3</text>
<text transform="translate(111 617.2) rotate(-90)">-2</text>
<text transform="translate(111 522.4) rotate(-90)">-1</text>
<text transform="translate(111 427.5) rotate(-90)">0</text>
<text transform="translate(111 332.6) rotate(-90)">1</text>
<text transform="translate(111 237.8) rotate(-90)">2</text>
<text x="710.4" y="909.4">Leverage</text>
<text x="710.4" y="947.8" style="letter-spacing:0.17px">lm(ihs_dep_delay ~ ihs_arr_delay)</text>
<text transform="translate(34.9 460.8) rotate(-90)">Standardized residuals</text>
</g>
<g style="font-size:24px">
<text x="1036.6" y="622.5" style="font-size:24px">972</text>
<text x="1082.6" y="621.8" style="font-size:24px">973</text>
<text x="1173.4" y="636.7" style="font-size:24px">974</text>
</g>
<path d="M186 742.5h56" fill="none" stroke="#9e9e9e" stroke-width="2" stroke-linecap="round" stroke-dasharray="8 8"/>
<text x="251.8" y="753.3" style="fill:#9e9e9e">Cook's distance</text>
</svg></body></html>
